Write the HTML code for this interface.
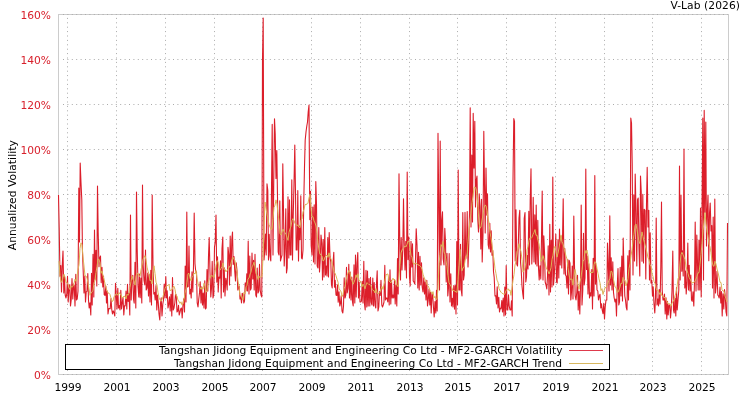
<!DOCTYPE html>
<html><head><meta charset="utf-8"><style>
html,body{margin:0;padding:0;background:#fff;width:750px;height:400px;overflow:hidden}
svg{display:block}
text{font-family:"DejaVu Sans","Liberation Sans",sans-serif;font-size:10.7px}
.t{fill:#000}
.r{fill:#d8202c}
</style></head><body>
<svg width="750" height="400" viewBox="0 0 750 400"><rect width="750" height="400" fill="#fff"/><rect x="58.5" y="14.5" width="670" height="360" fill="none" stroke="#cccccc" stroke-width="1"/><path d="M63 14.5H728M63 59.5H728M63 104.5H728M63 149.5H728M63 194.5H728M63 239.5H728M63 284.5H728M63 329.5H728M63 374.5H728M67.5 17.9V374M116.5 17.9V374M165.5 17.9V374M214.5 17.9V374M262.5 17.9V374M311.5 17.9V374M360.5 17.9V374M409.5 17.9V374M457.5 17.9V374M506.5 17.9V374M555.5 17.9V374M604.5 17.9V374M652.5 17.9V374M701.5 17.9V374" stroke="#ababab" stroke-width="1" stroke-dasharray="1 3.4" fill="none"/><path d="M58.5 195.0 59.2 228.0 60.0 276.3 60.8 265.6 61.5 292.0 62.2 266.5 63.0 251.0 63.8 293.0 64.5 276.4 65.2 295.0 66.0 298.0 66.8 293.7 67.5 276.4 68.2 302.0 69.0 288.7 69.8 284.6 70.5 306.0 71.2 300.0 72.0 278.5 72.8 299.0 73.5 284.0 74.2 285.4 75.0 306.0 75.8 274.2 76.5 300.0 77.2 299.0 78.0 291.0 78.8 188.0 79.5 242.0 80.2 163.0 81.0 183.0 81.8 200.0 82.5 252.5 83.2 271.3 84.0 293.0 84.8 276.1 85.5 302.0 86.2 291.9 87.0 291.3 87.8 273.6 88.5 300.0 89.2 308.0 90.0 302.9 90.8 315.0 91.5 273.2 92.2 305.0 93.0 254.2 93.8 297.0 94.5 230.0 95.2 279.3 96.0 250.3 96.8 286.0 97.5 186.0 98.2 233.0 99.0 266.7 99.8 257.6 100.5 256.0 101.2 282.6 102.0 267.2 102.8 287.0 103.5 276.1 104.2 294.6 105.0 295.4 105.8 286.0 106.5 303.0 107.2 291.1 108.0 314.0 108.8 308.5 109.5 308.6 110.2 308.6 111.0 298.5 111.8 310.0 112.5 314.0 113.2 310.9 114.0 312.6 114.8 316.0 115.5 283.3 116.2 293.7 117.0 309.0 117.8 288.3 118.5 308.0 119.2 305.5 120.0 310.0 120.8 290.2 121.5 309.0 122.2 303.2 123.0 297.6 123.8 315.0 124.5 305.9 125.2 306.0 126.0 291.0 126.8 309.0 127.5 284.2 128.2 301.4 129.0 293.4 129.8 315.0 130.5 215.0 131.2 300.0 132.0 277.7 132.8 275.3 133.5 299.0 134.2 303.1 135.0 262.2 135.8 308.0 136.5 192.0 137.2 249.0 138.0 286.2 138.8 297.0 139.5 274.0 140.2 297.8 141.0 278.0 141.8 303.0 142.5 185.0 143.2 265.8 144.0 280.5 144.8 285.0 145.5 250.0 146.2 290.0 147.0 288.1 147.8 273.0 148.5 296.0 149.2 274.5 150.0 302.0 150.8 270.3 151.5 305.0 152.2 195.0 153.0 265.0 153.8 294.0 154.5 292.4 155.2 300.0 156.0 285.6 156.8 310.0 157.5 295.1 158.2 301.8 159.0 314.0 159.8 320.0 160.5 303.3 161.2 297.7 162.0 316.0 162.8 304.0 163.5 300.0 164.2 284.0 165.0 298.0 165.8 276.5 166.5 298.0 167.2 290.9 168.0 308.0 168.8 304.0 169.5 296.7 170.2 311.0 171.0 294.3 171.8 316.0 172.5 277.6 173.2 310.0 174.0 308.0 174.8 303.0 175.5 294.5 176.2 294.7 177.0 312.0 177.8 311.0 178.5 305.2 179.2 315.0 180.0 312.0 180.8 308.6 181.5 308.0 182.2 318.0 183.0 304.4 183.8 298.7 184.5 312.0 185.2 266.0 186.0 302.0 186.8 212.0 187.5 287.0 188.2 286.5 189.0 246.0 189.8 294.0 190.5 289.4 191.2 298.0 192.0 271.9 192.8 292.0 193.5 266.2 194.2 213.0 195.0 263.8 195.8 272.5 196.5 271.9 197.2 303.0 198.0 307.0 198.8 298.7 199.5 292.9 200.2 281.8 201.0 303.0 201.8 286.9 202.5 305.0 203.2 293.1 204.0 308.0 204.8 280.8 205.5 309.0 206.2 308.0 207.0 269.6 207.8 291.1 208.5 256.1 209.2 237.5 210.0 272.3 210.8 297.0 211.5 287.9 212.2 261.4 213.0 298.0 213.8 294.0 214.5 247.2 215.2 242.3 216.0 215.0 216.8 282.1 217.5 256.8 218.2 292.0 219.0 277.0 219.8 278.1 220.5 260.9 221.2 298.0 222.0 248.9 222.8 237.0 223.5 292.0 224.2 267.8 225.0 296.0 225.8 278.2 226.5 282.2 227.2 290.0 228.0 247.3 228.8 254.7 229.5 285.0 230.2 236.0 231.0 276.0 231.8 239.9 232.5 232.0 233.2 264.4 234.0 256.5 234.8 272.0 235.5 281.0 236.2 262.8 237.0 270.6 237.8 290.0 238.5 287.2 239.2 286.0 240.0 299.0 240.8 296.7 241.5 303.0 242.2 293.4 243.0 294.0 243.8 303.0 244.5 301.0 245.2 282.9 246.0 291.0 246.8 273.7 247.5 291.0 248.2 241.0 249.0 294.0 249.8 256.1 250.5 290.0 251.2 288.0 252.0 253.0 252.8 279.0 253.5 260.3 254.2 290.0 255.0 254.3 255.8 295.0 256.5 297.0 257.2 268.1 258.0 293.0 258.8 291.0 259.5 264.4 260.2 290.0 261.0 295.0 261.8 297.0 262.5 60.0 263.2 18.0 264.0 260.0 264.8 250.0 265.5 234.1 266.2 255.0 267.0 183.8 267.8 190.6 268.5 260.0 269.2 234.4 270.0 255.6 270.8 261.0 271.5 189.4 272.2 124.4 273.0 255.0 273.8 176.3 274.5 118.8 275.2 133.8 276.0 178.4 276.8 150.6 277.5 196.8 278.2 252.0 279.0 255.0 279.8 200.9 280.5 261.0 281.2 258.0 282.0 255.0 282.8 163.8 283.5 209.3 284.2 266.0 285.0 248.4 285.8 208.7 286.5 273.0 287.2 268.0 288.0 196.8 288.8 258.0 289.5 199.9 290.2 255.0 291.0 255.0 291.8 179.9 292.5 260.0 293.2 217.0 294.0 184.3 294.8 145.0 295.5 193.0 296.2 250.0 297.0 250.0 297.8 190.5 298.5 261.0 299.2 226.0 300.0 239.6 300.8 195.8 301.5 258.0 302.2 259.0 303.0 250.0 303.8 199.8 304.5 167.0 305.2 140.0 306.0 132.0 306.8 126.0 307.5 122.0 308.2 112.0 309.0 105.0 309.8 219.6 310.5 191.3 311.2 246.0 312.0 255.0 312.8 207.0 313.5 262.0 314.2 204.8 315.0 264.0 315.8 181.6 316.5 204.3 317.2 266.0 318.0 268.0 318.8 227.5 319.5 272.0 320.2 260.9 321.0 235.0 321.8 243.4 322.5 280.0 323.2 239.6 324.0 277.0 324.8 227.5 325.5 275.0 326.2 266.0 327.0 276.0 327.8 237.5 328.5 277.0 329.2 232.5 330.0 256.4 330.8 262.3 331.5 285.0 332.2 288.0 333.0 263.5 333.8 252.3 334.5 287.2 335.2 280.4 336.0 295.0 336.8 295.5 337.5 284.7 338.2 302.2 339.0 291.7 339.8 306.0 340.5 303.4 341.2 295.8 342.0 311.0 342.8 313.0 343.5 306.0 344.2 277.7 345.0 298.0 345.8 295.0 346.5 267.4 347.2 293.0 348.0 288.2 348.8 264.3 349.5 298.0 350.2 272.0 351.0 300.0 351.8 277.1 352.5 302.0 353.2 306.0 354.0 264.9 354.8 303.0 355.5 255.0 356.2 297.0 357.0 262.9 357.8 252.6 358.5 298.0 359.2 282.4 360.0 302.0 360.8 302.0 361.5 301.0 362.2 281.2 363.0 303.0 363.8 261.2 364.5 304.0 365.2 310.0 366.0 270.2 366.8 307.0 367.5 271.1 368.2 306.0 369.0 278.6 369.8 306.0 370.5 277.4 371.2 302.0 372.0 305.0 372.8 278.1 373.5 306.0 374.2 282.6 375.0 305.0 375.8 308.0 376.5 283.4 377.2 270.8 378.0 311.0 378.8 307.0 379.5 291.5 380.2 295.5 381.0 280.4 381.8 305.0 382.5 307.0 383.2 305.0 384.0 302.0 384.8 265.4 385.5 300.0 386.2 298.0 387.0 298.0 387.8 302.0 388.5 277.2 389.2 305.0 390.0 269.7 390.8 304.0 391.5 280.3 392.2 298.0 393.0 295.0 393.8 298.0 394.5 279.8 395.2 304.0 396.0 284.7 396.8 306.0 397.5 258.5 398.2 294.0 399.0 173.8 399.8 244.1 400.5 280.0 401.2 237.5 402.0 270.0 402.8 249.4 403.5 198.8 404.2 241.8 405.0 270.0 405.8 241.3 406.5 278.0 407.2 172.0 408.0 259.6 408.8 237.0 409.5 277.0 410.2 286.0 411.0 241.2 411.8 267.0 412.5 243.9 413.2 281.0 414.0 282.0 414.8 284.0 415.5 259.1 416.2 228.8 417.0 245.2 417.8 288.0 418.5 252.2 419.2 290.0 420.0 256.4 420.8 285.0 421.5 262.7 422.2 287.0 423.0 292.0 423.8 277.7 424.5 294.0 425.2 281.7 426.0 300.0 426.8 280.2 427.5 306.0 428.2 300.5 429.0 289.0 429.8 305.0 430.5 292.4 431.2 313.0 432.0 293.1 432.8 296.9 433.5 308.0 434.2 317.0 435.0 301.6 435.8 312.9 436.5 290.2 437.2 311.0 438.0 133.2 438.8 209.7 439.5 290.0 440.2 141.0 441.0 265.0 441.8 220.2 442.5 211.7 443.2 259.0 444.0 265.0 444.8 228.4 445.5 241.9 446.2 282.0 447.0 253.4 447.8 296.0 448.5 287.7 449.2 253.6 450.0 302.0 450.8 273.7 451.5 306.0 452.2 298.4 453.0 307.0 453.8 285.6 454.5 309.1 455.2 285.5 456.0 314.0 456.8 241.6 457.5 305.0 458.2 170.0 459.0 290.0 459.8 290.0 460.5 244.2 461.2 290.0 462.0 296.0 462.8 212.5 463.5 280.0 464.2 275.0 465.0 212.4 465.8 259.0 466.5 252.6 467.2 211.5 468.0 267.0 468.8 244.0 469.5 213.3 470.2 107.7 471.0 227.0 471.8 155.0 472.5 222.0 473.2 113.2 474.0 168.1 474.8 121.3 475.5 207.0 476.2 180.1 477.0 176.0 477.8 220.0 478.5 232.0 479.2 193.8 480.0 206.3 480.8 249.0 481.5 199.3 482.2 262.0 483.0 234.8 483.8 131.2 484.5 185.3 485.2 233.0 486.0 168.0 486.8 215.1 487.5 193.8 488.2 245.0 489.0 249.0 489.8 223.3 490.5 252.0 491.2 230.7 492.0 255.2 492.8 250.5 493.5 271.5 494.2 277.5 495.0 296.0 495.8 295.9 496.5 304.0 497.2 286.8 498.0 308.0 498.8 297.3 499.5 312.0 500.2 308.3 501.0 308.8 501.8 300.5 502.5 312.0 503.2 298.1 504.0 316.0 504.8 287.1 505.5 315.0 506.2 265.5 507.0 310.0 507.8 310.0 508.5 294.7 509.2 306.0 510.0 310.0 510.8 309.9 511.5 300.9 512.2 316.0 513.0 180.6 513.8 118.6 514.5 121.3 515.2 261.0 516.0 209.7 516.8 264.0 517.5 266.0 518.2 248.9 519.0 218.1 519.8 210.2 520.5 262.0 521.2 270.0 522.0 286.0 522.8 294.0 523.5 299.0 524.2 218.5 525.0 212.6 525.8 282.0 526.5 277.0 527.2 255.6 528.0 269.0 528.8 211.2 529.5 265.0 530.2 200.4 531.0 168.8 531.8 264.0 532.5 244.6 533.2 197.4 534.0 262.0 534.8 214.9 535.5 264.0 536.2 205.0 537.0 266.0 537.8 220.4 538.5 268.0 539.2 280.0 540.0 265.9 540.8 278.9 541.5 237.8 542.2 191.0 543.0 280.0 543.8 235.9 544.5 252.3 545.2 282.0 546.0 285.0 546.8 289.0 547.5 276.6 548.2 245.9 549.0 295.0 549.8 224.3 550.5 292.0 551.2 240.2 552.0 287.0 552.8 177.0 553.5 285.0 554.2 276.4 555.0 261.5 555.8 234.0 556.5 282.0 557.2 283.0 558.0 239.6 558.8 278.0 559.5 229.0 560.2 265.0 561.0 236.2 561.8 268.0 562.5 239.2 563.2 198.8 564.0 274.0 564.8 248.5 565.5 275.0 566.2 276.3 567.0 288.0 567.8 259.6 568.5 294.0 569.2 260.4 570.0 263.2 570.8 300.0 571.5 292.0 572.2 266.1 573.0 299.0 573.8 216.0 574.5 265.7 575.2 296.0 576.0 300.0 576.8 292.2 577.5 275.2 578.2 310.0 579.0 291.2 579.8 314.0 580.5 287.3 581.2 205.0 582.0 305.0 582.8 290.0 583.5 233.2 584.2 285.0 585.0 278.0 585.8 169.0 586.5 269.5 587.2 256.1 588.0 294.0 588.8 263.7 589.5 298.0 590.2 292.8 591.0 296.1 591.8 269.6 592.5 309.0 593.2 258.2 594.0 296.0 594.8 175.5 595.5 284.0 596.2 266.3 597.0 290.0 597.8 291.0 598.5 300.0 599.2 296.2 600.0 294.3 600.8 308.0 601.5 303.7 602.2 310.0 603.0 313.6 603.8 303.4 604.5 319.0 605.2 307.0 606.0 300.0 606.8 300.0 607.5 243.0 608.2 263.2 609.0 291.0 609.8 215.8 610.5 285.0 611.2 257.8 612.0 290.0 612.8 261.9 613.5 292.5 614.2 298.0 615.0 302.0 615.8 299.1 616.5 316.0 617.2 287.2 618.0 268.6 618.8 305.0 619.5 302.0 620.2 267.3 621.0 296.0 621.8 256.1 622.5 301.0 623.2 238.0 624.0 271.4 624.8 296.0 625.5 300.0 626.2 307.0 627.0 310.0 627.8 255.7 628.5 300.0 629.2 250.5 630.0 290.0 630.8 118.0 631.5 123.0 632.2 163.0 633.0 275.0 633.8 194.8 634.5 261.0 635.2 174.0 636.0 210.2 636.8 266.0 637.5 199.6 638.2 198.0 639.0 248.9 639.8 276.0 640.5 176.0 641.2 191.0 642.0 261.3 642.8 194.4 643.5 263.0 644.2 209.4 645.0 210.4 645.8 279.0 646.5 203.9 647.2 167.4 648.0 227.0 648.8 210.2 649.5 280.0 650.2 232.7 651.0 283.0 651.8 280.2 652.5 296.1 653.2 286.9 654.0 303.9 654.8 313.0 655.5 297.8 656.2 218.0 657.0 305.0 657.8 299.0 658.5 306.0 659.2 289.5 660.0 304.0 660.8 266.8 661.5 202.0 662.2 290.1 663.0 300.0 663.8 300.0 664.5 294.1 665.2 314.0 666.0 297.8 666.8 319.0 667.5 301.2 668.2 315.0 669.0 304.8 669.8 305.2 670.5 318.0 671.2 309.7 672.0 290.6 672.8 251.0 673.5 310.1 674.2 313.0 675.0 298.4 675.8 316.0 676.5 287.5 677.2 310.0 678.0 300.0 678.8 290.0 679.5 166.0 680.2 280.0 681.0 195.0 681.8 271.3 682.5 250.9 683.2 276.0 684.0 149.0 684.8 288.0 685.5 271.1 686.2 294.0 687.0 282.4 687.8 243.0 688.5 290.0 689.2 265.2 690.0 290.9 690.8 275.1 691.5 300.0 692.2 301.3 693.0 291.9 693.8 306.0 694.5 281.6 695.2 222.0 696.0 291.0 696.8 235.0 697.5 262.7 698.2 290.0 699.0 240.0 699.8 290.0 700.5 208.0 701.2 297.0 702.0 211.6 702.8 118.0 703.5 280.0 704.2 110.4 705.0 212.4 705.8 122.0 706.5 246.0 707.2 213.9 708.0 195.0 708.8 260.8 709.5 213.6 710.2 203.0 711.0 231.0 711.8 225.5 712.5 288.0 713.2 217.0 714.0 298.0 714.8 199.0 715.5 293.0 716.2 284.7 717.0 271.2 717.8 295.0 718.5 296.0 719.2 298.0 720.0 287.1 720.8 303.0 721.5 291.6 722.2 316.0 723.0 293.7 723.8 309.0 724.5 289.5 725.2 295.3 726.0 312.0 726.8 316.0 727.5 223.0" fill="none" stroke="#dc1e2a" stroke-width="1.1" stroke-linejoin="round"/><path d="M59.0 261.1 60.0 275.5 61.0 282.2 62.0 281.9 63.0 277.4 64.0 274.2 65.0 277.2 66.0 282.6 67.0 282.3 68.0 284.4 69.0 287.3 70.0 289.6 71.0 286.2 72.0 287.3 73.0 286.1 74.0 283.5 75.0 279.2 76.0 281.3 77.0 276.1 78.0 269.4 79.0 264.8 80.0 248.4 81.0 242.8 82.0 244.8 83.0 257.0 84.0 266.0 85.0 276.0 86.0 276.0 87.0 278.0 88.0 283.2 89.0 288.7 90.0 295.3 91.0 293.0 92.0 291.9 93.0 290.3 94.0 282.7 95.0 280.8 96.0 272.5 97.0 266.5 98.0 259.3 99.0 259.3 100.0 263.1 101.0 273.4 102.0 270.9 103.0 275.6 104.0 279.4 105.0 283.6 106.0 287.8 107.0 290.7 108.0 293.0 109.0 293.2 110.0 294.5 111.0 298.2 112.0 301.4 113.0 301.0 114.0 296.8 115.0 295.8 116.0 293.8 117.0 293.8 118.0 295.4 119.0 292.5 120.0 294.1 121.0 294.3 122.0 298.1 123.0 296.8 124.0 296.5 125.0 296.2 126.0 299.0 127.0 294.1 128.0 295.3 129.0 293.2 130.0 287.3 131.0 281.4 132.0 275.9 133.0 279.6 134.0 280.9 135.0 285.2 136.0 276.0 137.0 273.6 138.0 273.1 139.0 276.2 140.0 276.4 141.0 269.9 142.0 265.1 143.0 259.1 144.0 257.4 145.0 255.6 146.0 259.8 147.0 267.1 148.0 271.1 149.0 273.9 150.0 280.7 151.0 280.2 152.0 284.0 153.0 272.6 154.0 265.8 155.0 273.3 156.0 282.2 157.0 285.1 158.0 292.4 159.0 297.9 160.0 299.9 161.0 301.2 162.0 299.6 163.0 296.5 164.0 292.3 165.0 288.4 166.0 286.3 167.0 285.4 168.0 285.5 169.0 284.4 170.0 290.7 171.0 290.0 172.0 289.8 173.0 286.8 174.0 286.2 175.0 289.5 176.0 295.5 177.0 295.8 178.0 300.5 179.0 301.2 180.0 303.4 181.0 301.8 182.0 305.1 183.0 304.2 184.0 299.4 185.0 293.4 186.0 288.7 187.0 282.7 188.0 273.6 189.0 273.4 190.0 278.1 191.0 280.8 192.0 277.4 193.0 276.1 194.0 273.0 195.0 274.1 196.0 270.5 197.0 278.0 198.0 283.3 199.0 286.4 200.0 287.5 201.0 289.3 202.0 287.3 203.0 289.2 204.0 283.3 205.0 286.3 206.0 292.2 207.0 290.9 208.0 282.4 209.0 279.6 210.0 278.3 211.0 275.3 212.0 276.1 213.0 275.9 214.0 277.6 215.0 272.7 216.0 265.5 217.0 260.6 218.0 261.5 219.0 268.1 220.0 270.1 221.0 268.5 222.0 266.5 223.0 262.9 224.0 269.6 225.0 269.2 226.0 271.9 227.0 270.2 228.0 269.8 229.0 266.7 230.0 267.0 231.0 263.2 232.0 259.4 233.0 257.2 234.0 259.2 235.0 260.7 236.0 267.3 237.0 272.4 238.0 280.8 239.0 287.1 240.0 295.5 241.0 295.6 242.0 298.0 243.0 300.2 244.0 292.4 245.0 293.9 246.0 286.9 247.0 285.3 248.0 278.8 249.0 278.1 250.0 274.0 251.0 272.2 252.0 266.9 253.0 265.1 254.0 262.2 255.0 267.1 256.0 273.3 257.0 275.1 258.0 279.5 259.0 276.2 260.0 277.8 261.0 276.5 262.0 276.6 263.0 257.7 264.0 225.4 265.0 202.0 266.0 208.4 267.0 214.2 268.0 219.4 269.0 224.7 270.0 226.9 271.0 229.6 272.0 228.7 273.0 218.7 274.0 207.3 275.0 205.2 276.0 199.9 277.0 204.1 278.0 213.5 279.0 220.8 280.0 233.5 281.0 235.0 282.0 232.1 283.0 229.1 284.0 231.4 285.0 232.7 286.0 234.3 287.0 237.3 288.0 240.4 289.0 232.3 290.0 228.9 291.0 226.4 292.0 220.6 293.0 218.6 294.0 220.6 295.0 223.4 296.0 224.8 297.0 225.4 298.0 225.1 299.0 227.3 300.0 227.8 301.0 220.2 302.0 218.9 303.0 212.0 304.0 209.4 305.0 204.8 306.0 204.1 307.0 204.3 308.0 203.2 309.0 197.8 310.0 194.3 311.0 208.3 312.0 216.9 313.0 216.6 314.0 221.0 315.0 222.9 316.0 226.0 317.0 233.5 318.0 242.8 319.0 250.0 320.0 254.2 321.0 254.9 322.0 256.1 323.0 261.0 324.0 260.4 325.0 257.0 326.0 256.0 327.0 255.0 328.0 257.4 329.0 252.8 330.0 257.7 331.0 258.5 332.0 263.0 333.0 266.7 334.0 271.6 335.0 273.1 336.0 275.8 337.0 279.3 338.0 282.1 339.0 288.2 340.0 290.4 341.0 291.2 342.0 296.7 343.0 294.5 344.0 288.9 345.0 286.3 346.0 280.7 347.0 275.4 348.0 273.2 349.0 270.2 350.0 272.4 351.0 279.4 352.0 279.8 353.0 284.3 354.0 282.2 355.0 279.6 356.0 274.8 357.0 277.5 358.0 273.8 359.0 280.9 360.0 280.7 361.0 282.4 362.0 286.8 363.0 284.1 364.0 285.9 365.0 288.8 366.0 285.1 367.0 282.6 368.0 283.7 369.0 284.7 370.0 284.6 371.0 285.6 372.0 289.3 373.0 290.4 374.0 290.6 375.0 293.0 376.0 288.6 377.0 292.9 378.0 293.6 379.0 293.6 380.0 292.2 381.0 288.6 382.0 286.5 383.0 289.4 384.0 284.7 385.0 280.1 386.0 275.0 387.0 274.0 388.0 274.2 389.0 281.0 390.0 282.0 391.0 282.9 392.0 280.0 393.0 278.2 394.0 280.1 395.0 279.7 396.0 284.3 397.0 285.0 398.0 286.7 399.0 275.8 400.0 264.6 401.0 253.0 402.0 250.0 403.0 248.5 404.0 247.4 405.0 245.8 406.0 246.9 407.0 244.4 408.0 241.0 409.0 241.3 410.0 248.4 411.0 255.3 412.0 257.1 413.0 262.8 414.0 264.5 415.0 263.0 416.0 263.5 417.0 263.7 418.0 264.9 419.0 265.1 420.0 266.1 421.0 266.7 422.0 269.6 423.0 274.2 424.0 277.3 425.0 279.3 426.0 281.0 427.0 284.8 428.0 285.7 429.0 287.9 430.0 290.4 431.0 291.8 432.0 294.2 433.0 291.6 434.0 297.9 435.0 296.3 436.0 299.5 437.0 298.9 438.0 288.4 439.0 263.7 440.0 254.5 441.0 244.6 442.0 246.5 443.0 241.5 444.0 251.9 445.0 254.2 446.0 260.7 447.0 266.6 448.0 275.6 449.0 282.7 450.0 284.5 451.0 286.1 452.0 288.1 453.0 291.0 454.0 290.2 455.0 291.7 456.0 291.6 457.0 292.5 458.0 279.4 459.0 265.3 460.0 249.4 461.0 261.5 462.0 270.8 463.0 267.9 464.0 267.3 465.0 261.0 466.0 255.7 467.0 256.5 468.0 241.7 469.0 230.0 470.0 220.1 471.0 213.7 472.0 202.7 473.0 196.1 474.0 187.7 475.0 186.9 476.0 188.9 477.0 194.7 478.0 207.8 479.0 222.6 480.0 228.3 481.0 227.0 482.0 220.1 483.0 214.8 484.0 208.0 485.0 205.1 486.0 205.6 487.0 210.8 488.0 218.2 489.0 223.0 490.0 232.5 491.0 237.4 492.0 244.7 493.0 253.5 494.0 259.5 495.0 268.7 496.0 273.6 497.0 280.1 498.0 282.1 499.0 288.5 500.0 290.7 501.0 292.2 502.0 293.3 503.0 293.6 504.0 294.5 505.0 293.8 506.0 290.4 507.0 289.7 508.0 288.7 509.0 290.7 510.0 289.8 511.0 295.4 512.0 287.9 513.0 280.4 514.0 274.6 515.0 265.0 516.0 261.3 517.0 251.7 518.0 249.4 519.0 243.7 520.0 248.3 521.0 251.6 522.0 259.6 523.0 272.1 524.0 270.5 525.0 267.8 526.0 261.2 527.0 249.9 528.0 246.6 529.0 240.3 530.0 237.8 531.0 238.5 532.0 237.3 533.0 234.2 534.0 232.3 535.0 229.5 536.0 235.3 537.0 235.2 538.0 240.6 539.0 244.1 540.0 251.4 541.0 261.5 542.0 259.8 543.0 255.6 544.0 259.3 545.0 262.9 546.0 267.1 547.0 269.4 548.0 270.9 549.0 274.1 550.0 271.3 551.0 267.8 552.0 259.4 553.0 255.2 554.0 248.2 555.0 246.3 556.0 251.9 557.0 257.1 558.0 253.2 559.0 247.9 560.0 241.8 561.0 234.9 562.0 241.8 563.0 243.9 564.0 247.9 565.0 252.2 566.0 256.0 567.0 259.0 568.0 267.6 569.0 275.2 570.0 279.1 571.0 279.4 572.0 278.9 573.0 285.2 574.0 276.3 575.0 269.4 576.0 274.7 577.0 281.2 578.0 285.8 579.0 289.2 580.0 282.2 581.0 277.5 582.0 269.7 583.0 260.8 584.0 260.1 585.0 250.5 586.0 253.3 587.0 250.2 588.0 255.9 589.0 265.7 590.0 272.4 591.0 272.9 592.0 272.1 593.0 272.7 594.0 264.5 595.0 261.7 596.0 262.9 597.0 268.7 598.0 273.5 599.0 278.8 600.0 282.9 601.0 290.5 602.0 288.7 603.0 294.5 604.0 290.7 605.0 287.7 606.0 287.5 607.0 285.7 608.0 282.9 609.0 280.3 610.0 278.4 611.0 271.1 612.0 271.6 613.0 277.4 614.0 282.0 615.0 287.0 616.0 287.5 617.0 292.2 618.0 292.3 619.0 289.8 620.0 287.0 621.0 283.1 622.0 283.7 623.0 277.4 624.0 280.2 625.0 280.1 626.0 285.8 627.0 283.1 628.0 278.7 629.0 268.3 630.0 263.8 631.0 255.8 632.0 249.6 633.0 241.1 634.0 234.3 635.0 225.6 636.0 224.1 637.0 229.7 638.0 236.1 639.0 241.0 640.0 243.8 641.0 239.0 642.0 231.9 643.0 236.5 644.0 241.3 645.0 244.5 646.0 248.9 647.0 252.8 648.0 257.7 649.0 259.8 650.0 264.8 651.0 266.6 652.0 273.8 653.0 276.5 654.0 281.4 655.0 283.3 656.0 288.1 657.0 290.5 658.0 290.1 659.0 292.4 660.0 294.7 661.0 292.5 662.0 296.0 663.0 296.0 664.0 297.5 665.0 297.5 666.0 300.2 667.0 301.6 668.0 304.0 669.0 303.6 670.0 304.0 671.0 306.2 672.0 302.7 673.0 301.8 674.0 299.4 675.0 295.5 676.0 293.0 677.0 287.2 678.0 278.9 679.0 276.1 680.0 263.8 681.0 254.6 682.0 252.3 683.0 254.8 684.0 257.0 685.0 259.6 686.0 266.4 687.0 270.2 688.0 273.6 689.0 277.3 690.0 279.0 691.0 281.1 692.0 283.0 693.0 282.6 694.0 282.2 695.0 281.3 696.0 279.0 697.0 276.6 698.0 272.8 699.0 272.7 700.0 264.3 701.0 254.6 702.0 243.3 703.0 230.7 704.0 222.1 705.0 212.5 706.0 223.8 707.0 230.9 708.0 236.3 709.0 244.2 710.0 246.7 711.0 252.6 712.0 260.8 713.0 265.7 714.0 266.3 715.0 261.2 716.0 264.1 717.0 269.0 718.0 272.4 719.0 277.1 720.0 282.3 721.0 282.5 722.0 289.9 723.0 291.0 724.0 291.2 725.0 295.9 726.0 298.7 727.0 302.0" fill="none" stroke="#dcb458" stroke-width="1"/><rect x="65.5" y="344.5" width="544" height="25" fill="#fff" stroke="#000" stroke-width="1"/><text x="562.5" y="354.3" text-anchor="end" textLength="403.5" lengthAdjust="spacing" class="t">Tangshan Jidong Equipment and Engineering Co Ltd - MF2-GARCH Volatility</text><text x="562" y="366.5" text-anchor="end" textLength="388" lengthAdjust="spacing" class="t">Tangshan Jidong Equipment and Engineering Co Ltd - MF2-GARCH Trend</text><path d="M569 350.5H603" stroke="#de3a4c" stroke-width="1"/><path d="M569 363.5H603" stroke="#d8b860" stroke-width="1"/><text x="51" y="378.5" text-anchor="end" class="r">0%</text><text x="51" y="333.5" text-anchor="end" class="r">20%</text><text x="51" y="288.5" text-anchor="end" class="r">40%</text><text x="51" y="243.5" text-anchor="end" class="r">60%</text><text x="51" y="198.5" text-anchor="end" class="r">80%</text><text x="51" y="153.5" text-anchor="end" class="r">100%</text><text x="51" y="108.5" text-anchor="end" class="r">120%</text><text x="51" y="63.5" text-anchor="end" class="r">140%</text><text x="51" y="18.5" text-anchor="end" class="r">160%</text><text x="68.0" y="391" text-anchor="middle" class="t">1999</text><text x="117.0" y="391" text-anchor="middle" class="t">2001</text><text x="166.0" y="391" text-anchor="middle" class="t">2003</text><text x="215.0" y="391" text-anchor="middle" class="t">2005</text><text x="263.0" y="391" text-anchor="middle" class="t">2007</text><text x="312.0" y="391" text-anchor="middle" class="t">2009</text><text x="361.0" y="391" text-anchor="middle" class="t">2011</text><text x="410.0" y="391" text-anchor="middle" class="t">2013</text><text x="458.0" y="391" text-anchor="middle" class="t">2015</text><text x="507.0" y="391" text-anchor="middle" class="t">2017</text><text x="556.0" y="391" text-anchor="middle" class="t">2019</text><text x="605.0" y="391" text-anchor="middle" class="t">2021</text><text x="653.0" y="391" text-anchor="middle" class="t">2023</text><text x="702.0" y="391" text-anchor="middle" class="t">2025</text><text x="740" y="8.9" text-anchor="end" textLength="69.6" lengthAdjust="spacing" class="t">V-Lab (2026)</text><text transform="translate(16,195.2) rotate(-90)" text-anchor="middle" textLength="110" lengthAdjust="spacing" class="t">Annualized Volatility</text></svg>
</body></html>
